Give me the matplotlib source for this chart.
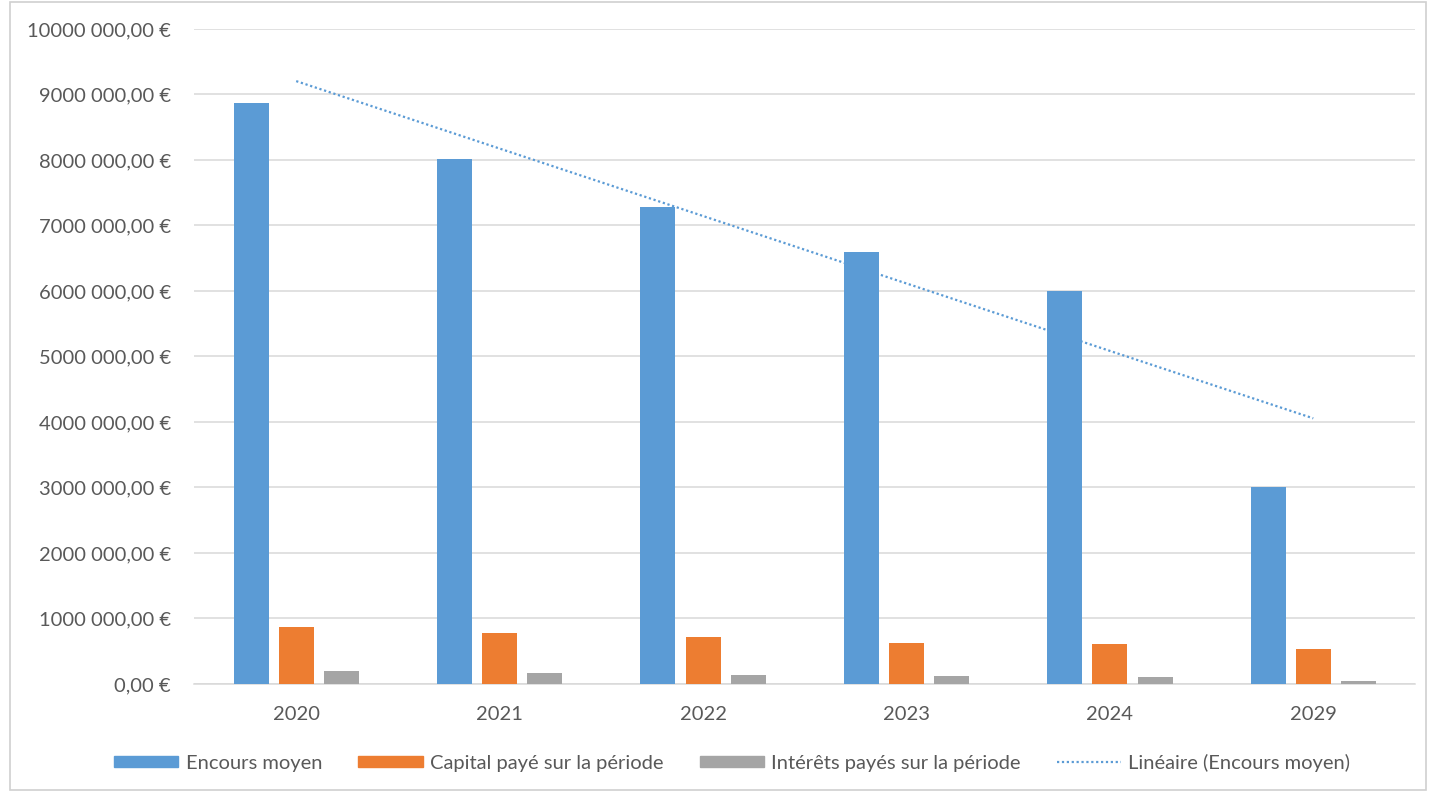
import numpy as np
import matplotlib
matplotlib.use("Agg")
import matplotlib.pyplot as plt
from matplotlib.ticker import FuncFormatter, MultipleLocator
from matplotlib.patches import Rectangle
from matplotlib.lines import Line2D

# données du tableau d'amortissement
annees = ["2020", "2021", "2022", "2023", "2024", "2029"]
encours_moyen = [8870000, 8020000, 7280000, 6600000, 6000000, 3010000]
capital_paye = [870000, 780000, 720000, 630000, 610000, 530000]
interets_payes = [200000, 170000, 140000, 120000, 100000, 40000]

noms_series = ["Encours moyen", "Capital payé sur la période",
               "Intérêts payés sur la période", "Linéaire (Encours moyen)"]

BLEU = "#5B9BD5"
ORANGE = "#ED7D31"
GRIS = "#A5A5A5"
TEXTE = "#595959"
GRILLE = "#D9D9D9"

plt.rcParams['font.family'] = ['Lato', 'DejaVu Sans']


def format_euro(v, pos):
    v = int(round(v))
    if v == 0:
        return "0,00 €"
    return "{} {:03d},00 €".format(v // 1000, v % 1000)


fig = plt.figure(figsize=(14.3, 7.92), dpi=100)
ax = fig.add_axes([0.136, 0.1364, 0.8535, 0.827])

x = np.arange(len(annees))
larg = 0.172
ecart = 0.222
ax.bar(x - ecart, encours_moyen, larg, color=BLEU, zorder=3)
ax.bar(x, capital_paye, larg, color=ORANGE, zorder=3)
ax.bar(x + ecart, interets_payes, larg, color=GRIS, zorder=3)

# courbe de tendance linéaire sur l'encours
a, b = np.polyfit(x, encours_moyen, 1)
ax.plot(x, a * x + b, color=BLEU, linestyle=(0, (1, 1.2)), linewidth=1.6, zorder=4)

ax.set_xlim(-0.5, len(annees) - 0.5)
ax.set_ylim(0, 10000000)
ax.yaxis.set_major_locator(MultipleLocator(1000000))
ax.yaxis.set_major_formatter(FuncFormatter(format_euro))
ax.set_xticks(x)
ax.set_xticklabels(annees)

ax.grid(axis='y', color=GRILLE, linewidth=1.1, zorder=0)
for s in ["top", "right", "left"]:
    ax.spines[s].set_visible(False)
ax.spines["bottom"].set_color(GRILLE)
ax.spines["bottom"].set_linewidth(1.1)
ax.tick_params(axis='both', length=0, labelsize=14.5, colors=TEXTE)
ax.tick_params(axis='x', pad=16)
ax.tick_params(axis='y', pad=17)

handles = [
    Rectangle((0, 0), 1, 1, color=BLEU),
    Rectangle((0, 0), 1, 1, color=ORANGE),
    Rectangle((0, 0), 1, 1, color=GRIS),
    Line2D([0], [0], color=BLEU, linestyle=(0, (1, 1.2)), linewidth=1.6),
]
leg = fig.legend(handles, noms_series, loc='center', bbox_to_anchor=(0.512, 0.037),
                 ncol=4, frameon=False, fontsize=14.5, handlelength=3.2,
                 handleheight=0.5, handletextpad=0.35, columnspacing=1.8)
for t in leg.get_texts():
    t.set_color(TEXTE)

# cadre de la zone de graphique
fig.add_artist(Rectangle((0.007, 0.003), 0.99, 0.994, transform=fig.transFigure,
                         fill=False, edgecolor="#D0D0D0", linewidth=1.2))

fig.savefig("out.png", dpi=100, facecolor="white")
